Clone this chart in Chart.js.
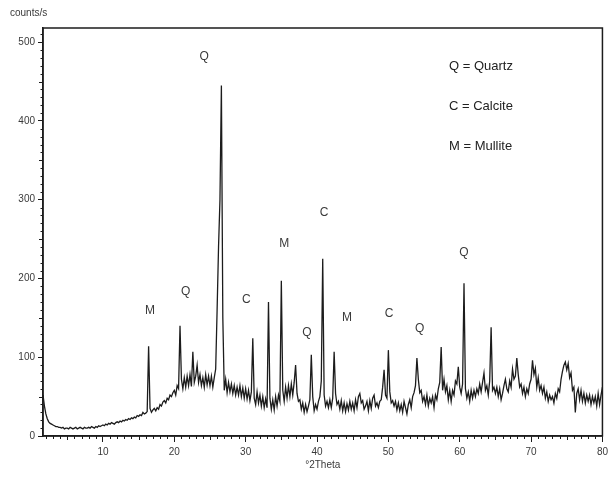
<!DOCTYPE html>
<html>
<head>
<meta charset="utf-8">
<script src="https://cdn.jsdelivr.net/npm/chart.js@4/dist/chart.umd.min.js"></script>
<style>
  html, body { margin: 0; padding: 0; background: #fff; }
  #wrap { width: 612px; height: 481px; }
</style>
</head>
<body>
<div id="wrap"><canvas id="xrd" width="612" height="481"></canvas></div>
<script>
// scan: fixed step from 1.6 to 80 °2Theta
const scanStart = 1.6;
const scanStep = 0.2;
const counts = [
  52, 38,
  28, 22, 18, 16, 15,   14, 13, 12, 12, 11,   11, 10, 11, 9, 10,   10, 9, 11, 10, 9,
  10, 11, 9, 10, 11,    10, 9, 11, 10, 10,    11, 10, 12, 11, 10,  12, 11, 13, 12, 13,
  14, 13, 15, 14, 16,   15, 17, 16, 15, 17,   18, 17, 19, 18, 20,  19, 21, 20, 22, 21,
  23, 22, 24, 23, 26,   25, 27, 26, 30, 28,   29, 31, 114, 35, 30, 33, 35, 32, 36, 34,
  40, 38, 43, 45, 42,   48, 46, 52, 50, 55,   58, 52, 64, 60, 140, 72, 60, 74, 62, 76,
  64, 78, 63, 107, 68,  76, 90, 68, 78, 64,   74, 62, 78, 65, 76,  64, 76, 62, 74, 85,
  160, 240, 300, 445, 150, 58, 72, 55, 68, 56, 66, 54, 64, 52, 62, 52, 64, 50, 61, 48,
  60, 47, 58, 45, 56,   124, 48, 40, 56, 42, 52, 38, 50, 36, 47,  36, 170, 48, 34, 46,
  33, 50, 38, 52, 44,   197, 58, 44, 62, 48, 64, 50, 66, 52, 68,  90, 54, 44, 46, 34,
  42, 30, 40, 31, 38,   46, 103, 50, 32, 40, 34, 44, 50, 70, 225, 52, 38, 44, 36, 46,
  36, 48, 107, 54, 40,  44, 34, 45, 32, 42,   31, 41, 33, 44, 34,  42, 32, 46, 36, 50,
  54, 42, 45, 34, 38,   44, 32, 45, 35, 48,   52, 38, 42, 36, 44,  46, 62, 84, 52, 48,
  109, 56, 42, 45, 38,  44, 33, 42, 32, 40,   30, 44, 36, 28, 40,  46, 36, 50, 55, 64,
  99, 72, 55, 58, 44,   50, 40, 52, 38, 48,   42, 50, 36, 52, 46,  60, 68, 113, 58, 72,
  56, 64, 46, 58, 44,   58, 52, 70, 66, 88,   62, 54, 66, 194, 60, 48, 56, 44, 58, 48,
  58, 50, 60, 54, 66,   56, 68, 80, 58, 64,   52, 70, 138, 58, 62, 54, 62, 50, 60, 46,
  54, 64, 72, 60, 56,   70, 62, 85, 72, 76,   99, 78, 62, 66, 54,  62, 50, 60, 54, 66,
  72, 96, 78, 86, 62,   74, 58, 64, 54, 62,   48, 56, 44, 52, 46,  50, 42, 54, 48, 60,
  56, 72, 82, 90, 94,   84, 92, 74, 80, 58,   62, 30, 54, 60, 46,  58, 44, 54, 42, 52,
  44, 52, 40, 50, 42,   50, 38, 54, 40, 52,
  62
];

// tick labels
const xTicks = [10, 20, 30, 40, 50, 60, 70, 80];
const yTicks = [0, 100, 200, 300, 400, 500];

// phase markers placed above peaks
const peakLetters = ["M", "Q", "Q", "C", "M", "Q", "C", "M", "C", "Q", "Q"];
const peakX = [16.6, 21.6, 24.2, 30.1, 35.4, 38.6, 41.0, 44.2, 50.1, 54.4, 60.6];
const peakY = [159, 183, 481, 173, 244, 131, 284, 150, 155, 136, 233];

const legendLines = ["Q = Quartz", "C = Calcite", "M = Mullite"];

const points = counts.map((c, i) => ({ x: +(scanStart + i * scanStep).toFixed(2), y: c }));

const ink = "#1c1c1c";
const textCol = "#3a3a3a";
const fontFam = "'Liberation Sans', Arial, sans-serif";

const decorations = {
  id: "decorations",
  afterDatasetsDraw(chart) {
    const { ctx, chartArea: a, scales } = chart;
    ctx.save();
    // frame
    ctx.strokeStyle = ink;
    ctx.lineWidth = 1.5;
    ctx.strokeRect(a.left, a.top, a.right - a.left, a.bottom - a.top);

    // minor ticks
    ctx.lineWidth = 1;
    ctx.beginPath();
    for (let v = 2; v <= 80; v++) {
      if (v % 10 === 0) continue;
      const px = Math.round(scales.x.getPixelForValue(v)) + 0.5;
      const len = v % 5 === 0 ? 4 : 3;
      ctx.moveTo(px, a.bottom);
      ctx.lineTo(px, a.bottom + len);
    }
    for (let v = 10; v <= 510; v += 10) {
      if (v % 100 === 0) continue;
      const py = Math.round(scales.y.getPixelForValue(v)) + 0.5;
      const len = v % 50 === 0 ? 4 : 2.5;
      ctx.moveTo(a.left, py);
      ctx.lineTo(a.left - len, py);
    }
    ctx.stroke();

    // peak letters
    ctx.fillStyle = textCol;
    ctx.font = "12px " + fontFam;
    ctx.textAlign = "center";
    ctx.textBaseline = "middle";
    peakLetters.forEach((t, i) => {
      ctx.fillText(t, scales.x.getPixelForValue(peakX[i]), scales.y.getPixelForValue(peakY[i]));
    });

    // key
    ctx.fillStyle = "#222";
    ctx.font = "13px " + fontFam;
    ctx.textAlign = "left";
    legendLines.forEach((t, i) => {
      ctx.fillText(t, 449, 66 + i * 40);
    });

    // y unit
    ctx.fillStyle = textCol;
    ctx.font = "10px " + fontFam;
    ctx.fillText("counts/s", 10, 13);
    ctx.restore();
  }
};

new Chart(document.getElementById("xrd"), {
  type: "line",
  data: {
    datasets: [{
      data: points,
      borderColor: ink,
      borderWidth: 1.3,
      pointRadius: 0,
      tension: 0,
      fill: false
    }]
  },
  options: {
    responsive: false,
    animation: false,
    layout: { padding: { top: 28, right: 6, left: 0, bottom: 0 } },
    plugins: { legend: { display: false }, tooltip: { enabled: false } },
    scales: {
      x: {
        type: "linear",
        min: 1.6,
        max: 80,
        afterBuildTicks: (s) => { s.ticks = xTicks.map(v => ({ value: v })); },
        afterFit: (s) => { s.height = 45; },
        grid: { drawOnChartArea: false, drawTicks: true, tickLength: 6, color: ink, lineWidth: 1 },
        border: { display: true, color: ink, width: 1.5 },
        ticks: { color: textCol, font: { family: fontFam, size: 10 }, padding: 4, maxRotation: 0 },
        title: { display: true, text: "°2Theta", color: textCol, font: { family: fontFam, size: 10 }, padding: { top: 0, bottom: 10 } }
      },
      y: {
        type: "linear",
        min: 0,
        max: 518,
        afterBuildTicks: (s) => { s.ticks = yTicks.map(v => ({ value: v })); },
        afterFit: (s) => { s.width = 43; },
        grid: { drawOnChartArea: false, drawTicks: true, tickLength: 5, color: ink, lineWidth: 1 },
        border: { display: true, color: ink, width: 1.5 },
        ticks: { color: textCol, font: { family: fontFam, size: 10 }, padding: 3 }
      }
    }
  },
  plugins: [decorations]
});
</script>
</body>
</html>
